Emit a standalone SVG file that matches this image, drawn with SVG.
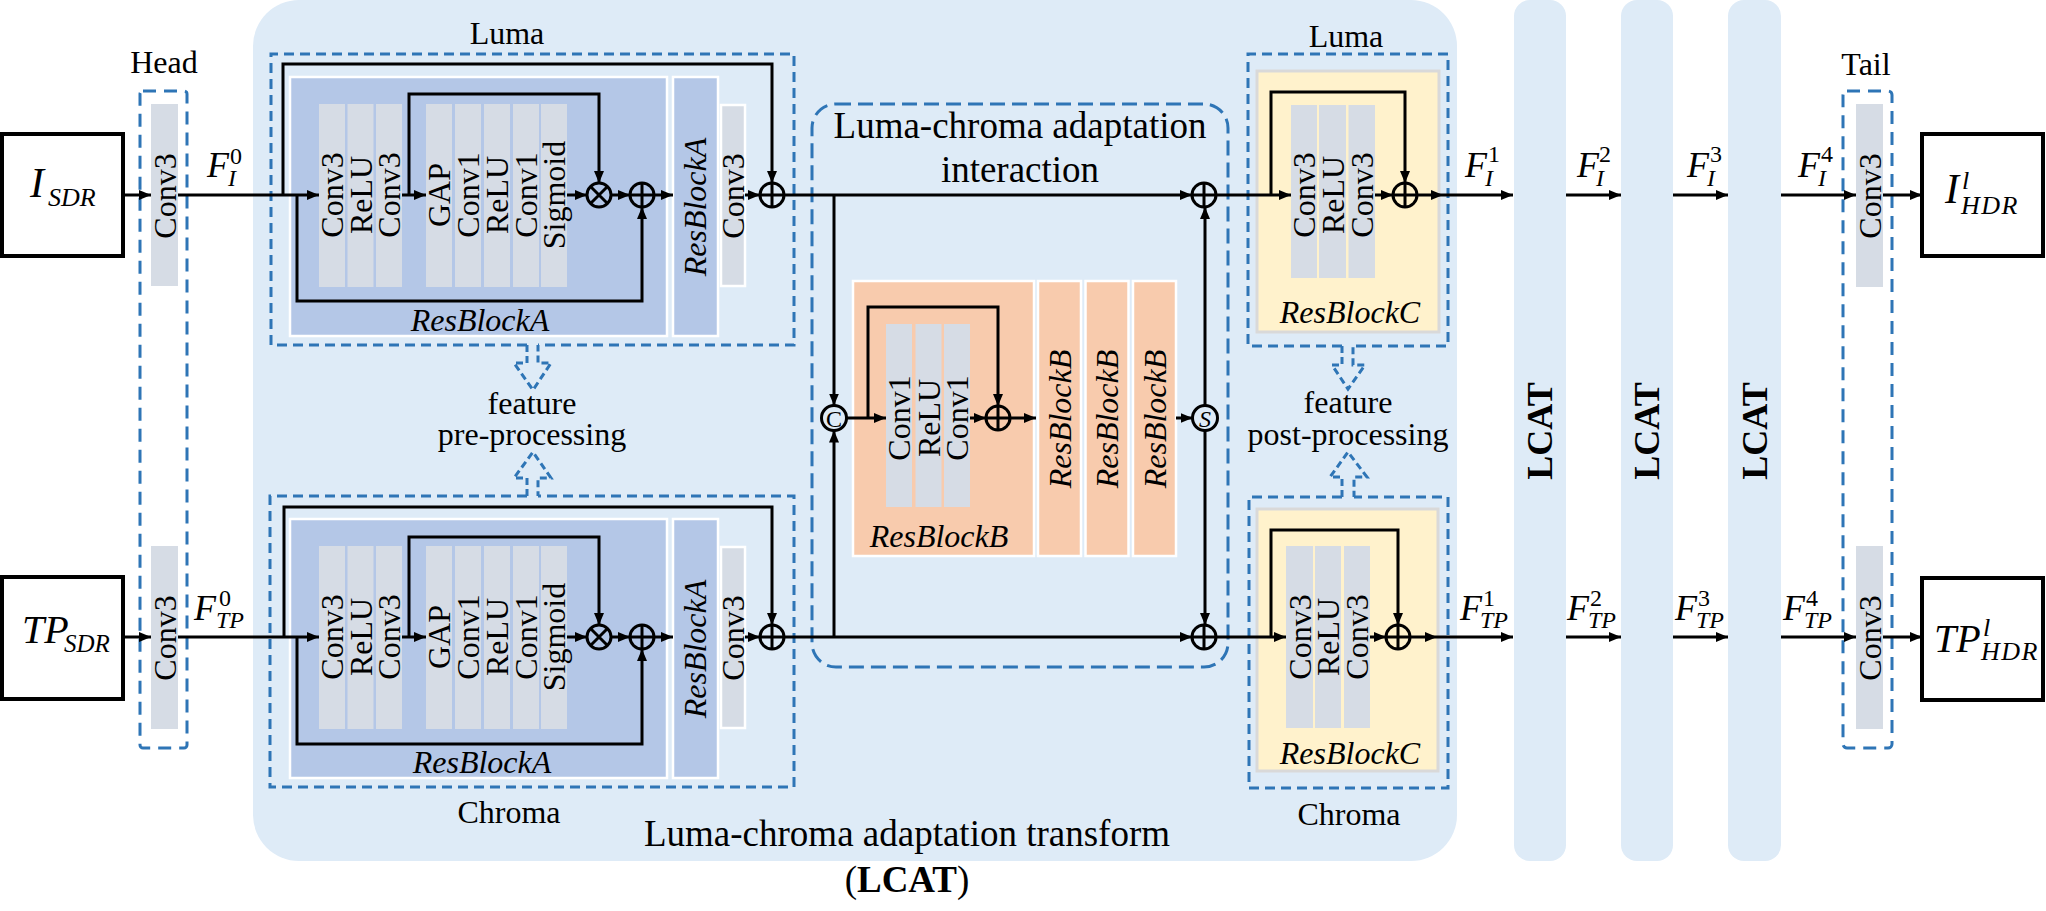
<svg xmlns="http://www.w3.org/2000/svg" width="2046" height="911" viewBox="0 0 2046 911">
<defs>
<style>
.tx{font-family:"Liberation Serif","Times New Roman",serif;fill:#000}
.s32{font-size:32px}
.s37{font-size:37px}
.it{font-style:italic}
.b{font-weight:bold}
.mid{text-anchor:middle}
.vt{text-anchor:middle;dominant-baseline:central}
.bg{fill:#deebf7}
.ba{fill:#b4c7e7;stroke:#fff;stroke-width:2.5}
.cell{fill:#d6dce5}
.cellw{fill:#d6dce5;stroke:#fff;stroke-width:2.5}
.bb{fill:#f8cbad;stroke:#fff;stroke-width:2.5}
.bc{fill:#fff2cc;stroke:#d9d9d9;stroke-width:3}
.io{fill:#fff;stroke:#000;stroke-width:4}
.dsh{fill:none;stroke:#2e75b6;stroke-width:3;stroke-dasharray:10 6}
.dshh{fill:none;stroke:#2e75b6;stroke-width:3;stroke-dasharray:13 8}
.dshl{fill:none;stroke:#2e75b6;stroke-width:3;stroke-dasharray:15 7}
.dshs{fill:none;stroke:#2e75b6;stroke-width:3;stroke-dasharray:7 4}
.ln{fill:none;stroke:#000;stroke-width:3;marker-end:url(#ah)}
.op{fill:none;stroke:#000;stroke-width:3}
.fb{font-size:36px;font-style:italic}
.fs{font-size:24px}
.fi{font-size:24px;font-style:italic}
</style>
<marker id="ah" markerUnits="userSpaceOnUse" markerWidth="13" markerHeight="11" refX="12" refY="5" orient="auto"><path d="M0,0 L12,5 L0,10 z" fill="#000"/></marker>
<g id="oplus"><circle r="12" class="op"/><path d="M-12,0H12M0,-12V12" class="op" stroke-width="2.5"/></g>
<g id="otimes"><circle r="12" class="op"/><path d="M-8.5,-8.5L8.5,8.5M-8.5,8.5L8.5,-8.5" class="op" stroke-width="2.5"/></g>
</defs>

<!-- big LCAT background -->
<g id="lcat-main">
<rect class="bg" x="253" y="0" width="1204" height="861" rx="46"/>
<text class="tx s37 mid" x="907" y="846">Luma-chroma adaptation transform</text>
<text class="tx s37 mid" x="907" y="892">(<tspan class="b">LCAT</tspan>)</text>
</g>

<!-- LCAT columns -->
<g id="lcat2"><rect class="bg" x="1514" y="0" width="52" height="861" rx="16"/><text class="tx b vt" font-size="36" transform="rotate(-90 1540 431)" x="1540" y="431">LCAT</text></g>
<g id="lcat3"><rect class="bg" x="1621" y="0" width="52" height="861" rx="16"/><text class="tx b vt" font-size="36" transform="rotate(-90 1647 431)" x="1647" y="431">LCAT</text></g>
<g id="lcat4"><rect class="bg" x="1728" y="0" width="53" height="861" rx="16"/><text class="tx b vt" font-size="36" transform="rotate(-90 1754.5 431)" x="1754.5" y="431">LCAT</text></g>

<!-- inputs -->
<g id="in-isdr">
<rect class="io" x="2" y="134" width="121" height="122"/>
<text class="tx it" font-size="42" x="30" y="197">I</text>
<text class="tx it" font-size="26" x="48" y="206">SDR</text>
</g>
<g id="in-tpsdr">
<rect class="io" x="2" y="577" width="121" height="122"/>
<text class="tx it" font-size="40" x="22" y="643">TP</text>
<text class="tx it" font-size="25" x="64" y="652">SDR</text>
</g>

<!-- head -->
<g id="head">
<text class="tx s32 mid" x="164" y="73">Head</text>
<rect class="dshh" x="140" y="91" width="47" height="657" rx="3"/>
<rect class="cell" x="151" y="104" width="27" height="182"/>
<text class="tx s32 vt" transform="rotate(-90 164.5 196)" x="164.5" y="196">Conv3</text>
<rect class="cell" x="151" y="546" width="27" height="183"/>
<text class="tx s32 vt" transform="rotate(-90 164.5 638)" x="164.5" y="638">Conv3</text>
</g>

<!-- luma pre-processing -->
<g id="luma-pre">
<text class="tx s32 mid" x="507" y="44">Luma</text>
<path class="dsh" d="M527,345 H271 V54 H794 V345 H538"/>
<rect class="ba" x="290" y="77" width="377" height="259"/>
<rect class="cell" x="319" y="104" width="26" height="183"/>
<rect class="cell" x="347.5" y="104" width="26" height="183"/>
<rect class="cell" x="376" y="104" width="26" height="183"/>
<rect class="cell" x="426" y="104" width="26" height="183"/>
<rect class="cell" x="455" y="104" width="26" height="183"/>
<rect class="cell" x="484" y="104" width="26" height="183"/>
<rect class="cell" x="513" y="104" width="26" height="183"/>
<rect class="cell" x="541" y="104" width="26" height="183"/>
<text class="tx s32 vt" transform="rotate(-90 332 195)" x="332" y="195">Conv3</text>
<text class="tx s32 vt" transform="rotate(-90 360.5 195)" x="360.5" y="195">ReLU</text>
<text class="tx s32 vt" transform="rotate(-90 389 195)" x="389" y="195">Conv3</text>
<text class="tx s32 vt" transform="rotate(-90 439 195)" x="439" y="195">GAP</text>
<text class="tx s32 vt" transform="rotate(-90 468 195)" x="468" y="195">Conv1</text>
<text class="tx s32 vt" transform="rotate(-90 497 195)" x="497" y="195">ReLU</text>
<text class="tx s32 vt" transform="rotate(-90 526 195)" x="526" y="195">Conv1</text>
<text class="tx s32 vt" transform="rotate(-90 554 195)" x="554" y="195">Sigmoid</text>
<text class="tx s32 it mid" x="480" y="331">ResBlockA</text>
<rect class="ba" x="673" y="77" width="45" height="259"/>
<text class="tx s32 it vt" transform="rotate(-90 695 207)" x="695" y="207">ResBlockA</text>
<rect class="cellw" x="721" y="105" width="24" height="181"/>
<text class="tx s32 vt" transform="rotate(-90 733 196)" x="733" y="196">Conv3</text>
<use href="#otimes" x="599" y="195"/>
<use href="#oplus" x="642" y="195"/>
<use href="#oplus" x="772" y="195"/>
</g>

<!-- chroma pre-processing -->
<g id="chroma-pre">
<text class="tx s32 mid" x="509" y="823">Chroma</text>
<path class="dsh" d="M527,496 H270 V787 H794 V496 H538"/>
<rect class="ba" x="290" y="519" width="377" height="259"/>
<rect class="cell" x="319" y="546" width="26" height="183"/>
<rect class="cell" x="347.5" y="546" width="26" height="183"/>
<rect class="cell" x="376" y="546" width="26" height="183"/>
<rect class="cell" x="426" y="546" width="26" height="183"/>
<rect class="cell" x="455" y="546" width="26" height="183"/>
<rect class="cell" x="484" y="546" width="26" height="183"/>
<rect class="cell" x="513" y="546" width="26" height="183"/>
<rect class="cell" x="541" y="546" width="26" height="183"/>
<text class="tx s32 vt" transform="rotate(-90 332 637)" x="332" y="637">Conv3</text>
<text class="tx s32 vt" transform="rotate(-90 360.5 637)" x="360.5" y="637">ReLU</text>
<text class="tx s32 vt" transform="rotate(-90 389 637)" x="389" y="637">Conv3</text>
<text class="tx s32 vt" transform="rotate(-90 439 637)" x="439" y="637">GAP</text>
<text class="tx s32 vt" transform="rotate(-90 468 637)" x="468" y="637">Conv1</text>
<text class="tx s32 vt" transform="rotate(-90 497 637)" x="497" y="637">ReLU</text>
<text class="tx s32 vt" transform="rotate(-90 526 637)" x="526" y="637">Conv1</text>
<text class="tx s32 vt" transform="rotate(-90 554 637)" x="554" y="637">Sigmoid</text>
<text class="tx s32 it mid" x="482" y="773">ResBlockA</text>
<rect class="ba" x="673" y="519" width="45" height="259"/>
<text class="tx s32 it vt" transform="rotate(-90 695 649)" x="695" y="649">ResBlockA</text>
<rect class="cellw" x="721" y="547" width="24" height="181"/>
<text class="tx s32 vt" transform="rotate(-90 733 638)" x="733" y="638">Conv3</text>
<use href="#otimes" x="599" y="637"/>
<use href="#oplus" x="642" y="637"/>
<use href="#oplus" x="772" y="637"/>
</g>

<!-- feature pre-processing -->
<g id="pre-label">
<path class="dshs" d="M527,345 V363 H514 L533,390 L551,363 H538 V345"/>
<path class="dshs" d="M527,496 V478 H514 L533,452 L551,478 H538 V496"/>
<text class="tx s32 mid" x="532" y="414">feature</text>
<text class="tx s32 mid" x="532" y="445">pre-processing</text>
</g>

<!-- interaction -->
<g id="interaction">
<rect class="dshl" x="812" y="104" width="416" height="563" rx="24"/>
<text class="tx s37 mid" x="1020" y="138">Luma-chroma adaptation</text>
<text class="tx s37 mid" x="1020" y="182">interaction</text>
<circle cx="834" cy="418" r="12.5" class="op"/>
<text class="tx vt" font-size="24" x="834" y="419">C</text>
<circle cx="1205" cy="418" r="12.5" class="op"/>
<text class="tx vt it" font-size="24" x="1205" y="419">S</text>
<use href="#oplus" x="1204" y="195"/>
<use href="#oplus" x="1204" y="637"/>
</g>

<g id="resblockB">
<rect class="bb" x="853" y="281" width="181" height="275"/>
<rect class="cell" x="886" y="324" width="26" height="183"/>
<rect class="cell" x="915.5" y="324" width="26" height="183"/>
<rect class="cell" x="944" y="324" width="26" height="183"/>
<text class="tx s32 vt" transform="rotate(-90 899 418)" x="899" y="418">Conv1</text>
<text class="tx s32 vt" transform="rotate(-90 928.5 418)" x="928.5" y="418">ReLU</text>
<text class="tx s32 vt" transform="rotate(-90 957 418)" x="957" y="418">Conv1</text>
<use href="#oplus" x="998" y="418"/>
<text class="tx s32 it mid" x="939" y="547">ResBlockB</text>
</g>
<g id="resblockB2"><rect class="bb" x="1038" y="281" width="43" height="275"/><text class="tx s32 it vt" transform="rotate(-90 1059.5 419)" x="1059.5" y="419">ResBlockB</text></g>
<g id="resblockB3"><rect class="bb" x="1085.5" y="281" width="43" height="275"/><text class="tx s32 it vt" transform="rotate(-90 1107 419)" x="1107" y="419">ResBlockB</text></g>
<g id="resblockB4"><rect class="bb" x="1133" y="281" width="43" height="275"/><text class="tx s32 it vt" transform="rotate(-90 1154.5 419)" x="1154.5" y="419">ResBlockB</text></g>

<!-- luma post-processing -->
<g id="luma-post">
<text class="tx s32 mid" x="1346" y="47">Luma</text>
<path class="dsh" d="M1342,346 H1248 V54 H1448 V346 H1353"/>
<rect class="bc" x="1257" y="71" width="182" height="261"/>
<rect class="cell" x="1291" y="105" width="26" height="173"/>
<rect class="cell" x="1319" y="105" width="27" height="173"/>
<rect class="cell" x="1348.5" y="105" width="26.5" height="173"/>
<text class="tx s32 vt" transform="rotate(-90 1304 195)" x="1304" y="195">Conv3</text>
<text class="tx s32 vt" transform="rotate(-90 1332.5 195)" x="1332.5" y="195">ReLU</text>
<text class="tx s32 vt" transform="rotate(-90 1361.5 195)" x="1361.5" y="195">Conv3</text>
<use href="#oplus" x="1405" y="195"/>
<text class="tx s32 it mid" x="1350" y="323">ResBlockC</text>
</g>

<!-- chroma post-processing -->
<g id="chroma-post">
<text class="tx s32 mid" x="1349" y="825">Chroma</text>
<path class="dsh" d="M1342,497 H1249 V788 H1448 V497 H1354"/>
<rect class="bc" x="1257" y="509" width="181" height="262"/>
<rect class="cell" x="1286" y="546" width="27" height="182"/>
<rect class="cell" x="1315" y="546" width="26" height="182"/>
<rect class="cell" x="1344" y="546" width="26" height="182"/>
<text class="tx s32 vt" transform="rotate(-90 1299.5 637)" x="1299.5" y="637">Conv3</text>
<text class="tx s32 vt" transform="rotate(-90 1328 637)" x="1328" y="637">ReLU</text>
<text class="tx s32 vt" transform="rotate(-90 1357 637)" x="1357" y="637">Conv3</text>
<use href="#oplus" x="1398" y="637"/>
<text class="tx s32 it mid" x="1350" y="764">ResBlockC</text>
</g>

<g id="post-label">
<path class="dshs" d="M1342,346 V365 H1332 L1348,389 L1365,365 H1353 V346"/>
<path class="dshs" d="M1342,497 V477 H1330 L1348,452 L1367,477 H1354 V497"/>
<text class="tx s32 mid" x="1348" y="413">feature</text>
<text class="tx s32 mid" x="1348" y="445">post-processing</text>
</g>

<!-- tail -->
<g id="tail">
<text class="tx s32 mid" x="1866" y="75">Tail</text>
<rect class="dshh" x="1843" y="91" width="49" height="657" rx="4"/>
<rect class="cell" x="1856" y="104" width="27" height="183"/>
<text class="tx s32 vt" transform="rotate(-90 1869.5 196)" x="1869.5" y="196">Conv3</text>
<rect class="cell" x="1856" y="546" width="27" height="183"/>
<text class="tx s32 vt" transform="rotate(-90 1869.5 638)" x="1869.5" y="638">Conv3</text>
</g>

<!-- outputs -->
<g id="out-ihdr">
<rect class="io" x="1922" y="134" width="121" height="122"/>
<text class="tx it" font-size="42" x="1945" y="203">I</text>
<text class="tx it" font-size="26" x="1962" y="189">l</text>
<text class="tx it" font-size="26" x="1961" y="214" letter-spacing="1.5">HDR</text>
</g>
<g id="out-tphdr">
<rect class="io" x="1922" y="578" width="121" height="122"/>
<text class="tx it" font-size="40" x="1934" y="652">TP</text>
<text class="tx it" font-size="26" x="1983" y="636">l</text>
<text class="tx it" font-size="26" x="1981" y="660" letter-spacing="1.5">HDR</text>
</g>

<!-- feature labels -->
<g id="labels">
<text class="tx fb" x="207" y="177">F</text><text class="tx fs" x="230" y="164">0</text><text class="tx fi" x="228" y="186">I</text>
<text class="tx fb" x="194" y="620">F</text><text class="tx fs" x="219" y="606">0</text><text class="tx fi" x="216" y="628">TP</text>
<text class="tx fb" x="1465" y="177">F</text><text class="tx fs" x="1488" y="162">1</text><text class="tx fi" x="1485" y="186">I</text>
<text class="tx fb" x="1460" y="620">F</text><text class="tx fs" x="1483" y="606">1</text><text class="tx fi" x="1480" y="628">TP</text>
<text class="tx fb" x="1577" y="177">F</text><text class="tx fs" x="1599" y="162">2</text><text class="tx fi" x="1596" y="186">I</text>
<text class="tx fb" x="1567" y="620">F</text><text class="tx fs" x="1590" y="606">2</text><text class="tx fi" x="1588" y="628">TP</text>
<text class="tx fb" x="1687" y="177">F</text><text class="tx fs" x="1710" y="162">3</text><text class="tx fi" x="1707" y="186">I</text>
<text class="tx fb" x="1675" y="620">F</text><text class="tx fs" x="1698" y="606">3</text><text class="tx fi" x="1696" y="628">TP</text>
<text class="tx fb" x="1798" y="177">F</text><text class="tx fs" x="1821" y="162">4</text><text class="tx fi" x="1818" y="186">I</text>
<text class="tx fb" x="1783" y="620">F</text><text class="tx fs" x="1806" y="606">4</text><text class="tx fi" x="1804" y="628">TP</text>
</g>

<!-- connectors -->
<g id="connectors">
<path class="ln" d="M123,195 H151"/>
<path class="ln" d="M178,195 H319"/>
<path class="ln" d="M283,195 V64 H772 V183"/>
<path class="ln" d="M297,195 V301 H642 V207"/>
<path class="ln" d="M402,195 H426"/>
<path class="ln" d="M409,195 V94 H599 V183"/>
<path class="ln" d="M567,195 H587"/>
<path class="ln" d="M611,195 H630"/>
<path class="ln" d="M654,195 H673"/>
<path class="ln" d="M745,195 H760"/>
<path class="ln" d="M784,195 H1192"/>
<path class="ln" d="M834,195 V405.5"/>

<path class="ln" d="M123,637 H151"/>
<path class="ln" d="M178,637 H319"/>
<path class="ln" d="M284,637 V507 H772 V625"/>
<path class="ln" d="M297,637 V744 H642 V649"/>
<path class="ln" d="M402,637 H426"/>
<path class="ln" d="M409,637 V537 H599 V625"/>
<path class="ln" d="M567,637 H587"/>
<path class="ln" d="M611,637 H630"/>
<path class="ln" d="M654,637 H673"/>
<path class="ln" d="M745,637 H760"/>
<path class="ln" d="M784,637 H1192"/>
<path class="ln" d="M834,637 V430.5"/>

<path class="ln" d="M846.5,418 H886"/>
<path class="ln" d="M868,418 V307 H998 V406"/>
<path class="ln" d="M970,418 H986"/>
<path class="ln" d="M1010,418 H1036"/>
<path class="ln" d="M1176,418 H1192.5"/>
<path class="ln" d="M1205,405.5 V207"/>
<path class="ln" d="M1205,430.5 V625"/>

<path class="ln" d="M1216,195 H1291"/>
<path class="ln" d="M1271,195 V92 H1405 V183"/>
<path class="ln" d="M1375,195 H1393"/>
<path class="ln" d="M1417,195 H1443"/>
<path class="ln" d="M1443,195 H1513"/>
<path class="ln" d="M1566,195 H1621"/>
<path class="ln" d="M1673,195 H1728"/>
<path class="ln" d="M1781,195 H1856"/>
<path class="ln" d="M1883,195 H1922"/>

<path class="ln" d="M1216,637 H1286"/>
<path class="ln" d="M1271,637 V530 H1398 V625"/>
<path class="ln" d="M1370,637 H1386"/>
<path class="ln" d="M1410,637 H1437"/>
<path class="ln" d="M1437,637 H1513"/>
<path class="ln" d="M1566,637 H1621"/>
<path class="ln" d="M1673,637 H1728"/>
<path class="ln" d="M1781,637 H1856"/>
<path class="ln" d="M1883,637 H1922"/>
</g>
</svg>
